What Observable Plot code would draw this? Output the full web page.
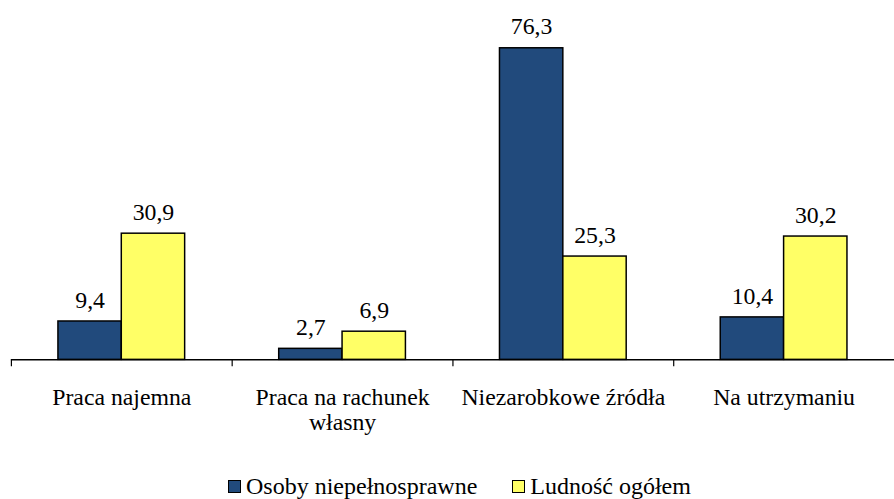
<!DOCTYPE html>
<html>
<head>
<meta charset="utf-8">
<script src="https://cdn.jsdelivr.net/npm/d3@7"></script>
<script src="https://cdn.jsdelivr.net/npm/@observablehq/plot@0.6"></script>
<style>
  html, body { margin: 0; padding: 0; background: #fff; }
  body { width: 894px; height: 499px; overflow: hidden; position: relative; font-family: "Liberation Serif", "Times New Roman", Times, "DejaVu Serif", serif; }
  #chart { position: absolute; top: 0; left: 0; }
  #chart svg { display: block; }
  #legend { position: absolute; top: 474px; left: 228px; display: flex; align-items: center; font-size: 24px; line-height: 24px; color: #000; white-space: nowrap; }
  .sw { width: 11px; height: 11px; border: 1.5px solid #000; display: inline-block; margin-right: 5px; }
</style>
</head>
<body>
<div id="chart"></div>
<div id="legend"></div>
<script>
const categories = ["Praca najemna", "Praca na rachunek\nwłasny", "Niezarobkowe źródła", "Na utrzymaniu"];
const seriesNames = ["Osoby niepełnosprawne", "Ludność ogółem"];
const disabled = [9.4, 2.7, 76.3, 10.4];
const total = [30.9, 6.9, 25.3, 30.2];
const colors = ["#214a7c", "#ffff66"];

const fmt = v => v.toFixed(1).replace(".", ",");
const rows = categories.flatMap((c, i) => [
  {category: c, series: seriesNames[0], value: disabled[i]},
  {category: c, series: seriesNames[1], value: total[i]}
]);
const blue = rows.filter(d => d.series === seriesNames[0]);
const yellow = rows.filter(d => d.series === seriesNames[1]);
const FONT = "'Liberation Serif', 'Times New Roman', Times, 'DejaVu Serif', serif";

const chart = Plot.plot({
  width: 903,
  height: 450,
  marginLeft: 11,
  marginRight: 0,
  marginTop: 33,
  marginBottom: 87,
  style: {fontFamily: FONT, fontSize: "24px", background: "#fff", color: "#000"},
  x: {domain: categories, padding: 0, label: null},
  y: {domain: [0, 80], axis: null},
  marks: [
    Plot.barY(blue, {x: "category", y: "value", fill: colors[0], stroke: "#000", strokeWidth: 1.5, insetLeft: 47.5, insetRight: 111.5}),
    Plot.barY(yellow, {x: "category", y: "value", fill: colors[1], stroke: "#000", strokeWidth: 1.5, insetLeft: 111.5, insetRight: 47.5}),
    Plot.text(blue, {x: "category", y: "value", text: d => fmt(d.value), dx: -32, dy: -14, lineAnchor: "bottom", fontSize: 24, fontFamily: FONT, fill: "#000"}),
    Plot.text(yellow, {x: "category", y: "value", text: d => fmt(d.value), dx: 32, dy: -14, lineAnchor: "bottom", fontSize: 24, fontFamily: FONT, fill: "#000"}),
    Plot.ruleY([0], {stroke: "#000", strokeWidth: 1.5}),
    Plot.axisX({tickSize: 7, text: null, dx: -111.5, stroke: "#000", strokeWidth: 1.2}),
    Plot.axisX({tickSize: 0, tickPadding: 28, lineHeight: 1.05, fontSize: 24, fontFamily: FONT, fill: "#000", label: null})
  ]
});
document.getElementById("chart").appendChild(chart);

const legend = document.getElementById("legend");
seriesNames.forEach((name, i) => {
  const item = document.createElement("span");
  item.style.display = "inline-flex";
  item.style.alignItems = "center";
  item.style.marginRight = i === 0 ? "35px" : "0";
  const sw = document.createElement("span");
  sw.className = "sw";
  sw.style.background = colors[i];
  const t = document.createElement("span");
  t.textContent = name;
  item.appendChild(sw);
  item.appendChild(t);
  legend.appendChild(item);
});
</script>
</body>
</html>
